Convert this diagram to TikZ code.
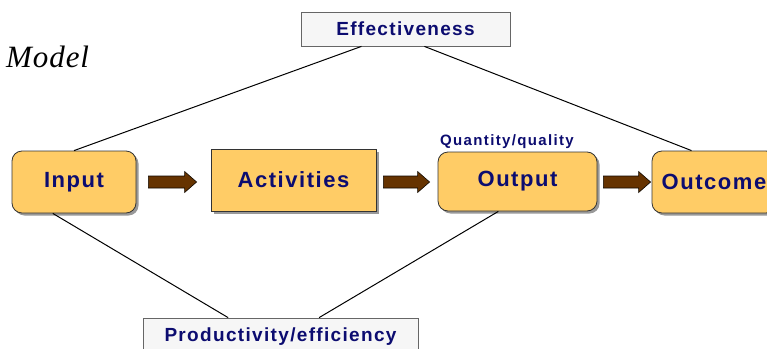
\documentclass[tikz,border=0pt]{standalone}
\usepackage{fontspec}
\setmainfont{Liberation Sans}
\newfontfamily\lblfont[LetterSpace=7]{Liberation Sans}
\newfontfamily\smlblfont[LetterSpace=9]{Liberation Sans}
\newfontfamily\modelfont[LetterSpace=3]{Liberation Serif}
\usetikzlibrary{calc,shadows}
\definecolor{navy}{RGB}{12,12,112}
\definecolor{boxfill}{RGB}{255,204,102}
\definecolor{arrowbrown}{RGB}{102,51,0}
\definecolor{lightbox}{RGB}{246,246,246}
\tikzset{
  stage/.style={draw=black!80, line width=0.8pt, fill=boxfill, text=navy,
    font=\lblfont\bfseries\fontsize{22}{22}\selectfont, inner sep=0pt,
    drop shadow={shadow xshift=2.5pt, shadow yshift=-2.5pt, fill=black!50, opacity=0.8}},
  roundstage/.style={stage, rounded corners=10pt},
  labelbox/.style={draw=black!60, line width=0.8pt, fill=lightbox, text=navy,
    font=\lblfont\bfseries\fontsize{19}{19}\selectfont, inner sep=0pt},
  link/.style={draw=black, line width=1pt},
  blockarrowstyle/.style={draw=black!85!arrowbrown, line width=0.6pt, fill=arrowbrown}
}
\newcommand\blockarrow[2]{%
  \path[blockarrowstyle] ($(#1)+(0,-6)$) -- ($(#2)+(-12,-6)$) -- ($(#2)+(-12,-10.5)$)
    -- (#2) -- ($(#2)+(-12,10.5)$) -- ($(#2)+(-12,6)$) -- ($(#1)+(0,6)$) -- cycle;}
\begin{document}
\begin{tikzpicture}[x=1pt,y=-1pt]
\useasboundingbox (0,0) rectangle (767,348);
\clip (0,0) rectangle (767,348);
\fill[white] (0,0) rectangle (767,348);

% stage boxes
\node[roundstage, minimum width=124pt, minimum height=62pt] (input) at (74,182) {Input};
\node[stage, minimum width=165pt, minimum height=62pt] (act) at (293.5,180) {Activities};
\node[roundstage, minimum width=159pt, minimum height=59pt] (output) at (517.5,181.5) {Output};
\node[roundstage, minimum width=124pt, minimum height=62pt] (outcome) at (714,182) {Outcome};

% label boxes
\node[labelbox, minimum width=209pt, minimum height=34pt] (eff) at (405.5,29) {Effectiveness};
\node[labelbox, minimum width=275pt, minimum height=38pt] (prod) at (280.5,337) {Productivity/efficiency};

% texts
\node[anchor=base west, inner sep=0pt, text=navy,
  font=\smlblfont\bfseries\fontsize{15}{15}\selectfont] (qq) at (440,145.5) {Quantity/quality};
\node[anchor=base west, inner sep=0pt, font=\modelfont\itshape\fontsize{31}{31}\selectfont] (model) at (6,67) {Model};

% connecting lines
\draw[link] ($(eff.south west)!0.29!(eff.south east)$) -- (input.north);
\draw[link] ($(eff.south west)!0.59!(eff.south east)$) -- ($(outcome.north west)!0.32!(outcome.north east)$);
\draw[link] ($(input.south west)!0.33!(input.south east)$) -- ($(prod.north west)!0.31!(prod.north east)$);
\draw[link] ($(output.south west)!0.38!(output.south east)$) -- ($(prod.north west)!0.64!(prod.north east)$);

% block arrows
\coordinate (a1s) at ($(input.east)+(12,0)$);
\coordinate (a1e) at ($(act.west)+(-14,2)$);
\coordinate (a2s) at ($(act.east)+(7,2)$);
\coordinate (a2e) at ($(output.west)+(-8,0.5)$);
\coordinate (a3s) at ($(output.east)+(6,0.5)$);
\coordinate (a3e) at ($(outcome.west)+(-1,0)$);
\blockarrow{a1s}{a1e}
\blockarrow{a2s}{a2e}
\blockarrow{a3s}{a3e}
\end{tikzpicture}
\end{document}
